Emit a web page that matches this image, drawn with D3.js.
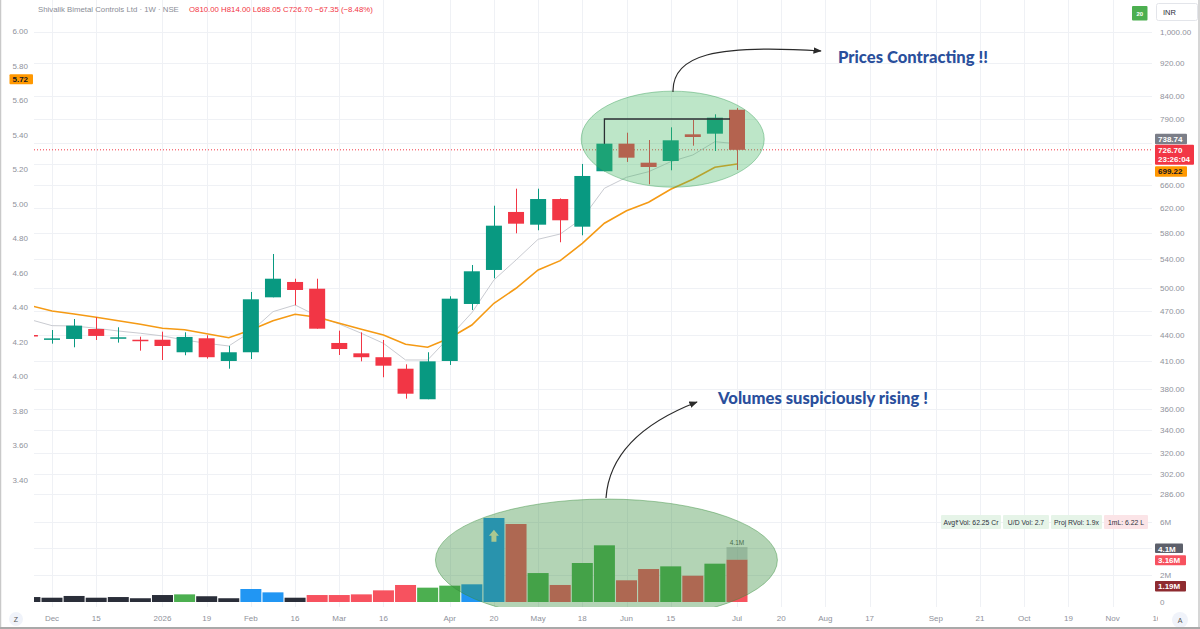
<!DOCTYPE html>
<html><head><meta charset="utf-8">
<script src="https://cdn.jsdelivr.net/npm/d3@7"></script>
<style>
body{margin:0;background:#fff;}
svg{display:block;font-family:"Liberation Sans",Arial,sans-serif;}
</style>
</head><body>
<svg id="c" width="1200" height="629"></svg>
<script>
// ---------- data (weekly, NSE: Shivalik Bimetal Controls) ----------
const dates = ['2025-11-24','2025-12-01','2025-12-08','2025-12-15','2025-12-22','2025-12-29',
  '2026-01-05','2026-01-12','2026-01-19','2026-01-26','2026-02-02','2026-02-09','2026-02-16','2026-02-23',
  '2026-03-02','2026-03-09','2026-03-16','2026-03-23','2026-03-30','2026-04-06','2026-04-13','2026-04-20',
  '2026-04-27','2026-05-04','2026-05-11','2026-05-18','2026-05-25','2026-06-01','2026-06-08','2026-06-15',
  '2026-06-22','2026-06-29','2026-07-06'];
const open  = [440,435,435.3,447.2,436.1,434.4,434.4,419.9,436.1,410.1,419.9,487.3,508.0,498.8,430.6,418.7,414.3,
  401.6,369.7,410.1,478.6,524.8,614.1,593.3,636.0,590.1,685.7,738.9,701.8,705.0,757.9,759.2,810.0];
const high  = [441,446.0,459.5,461.7,449.3,438.0,444.0,443.2,439.7,427.1,494.4,548.0,512.5,512.5,445.2,443.2,434.1,
  406.4,419.9,488.7,531.9,624.6,654.1,654.1,637.0,699.4,790.0,761.2,746.3,772.4,787.9,800.1,814.0];
const low   = [438,429.8,425.6,434.1,431.0,421.7,411.2,416.5,412.7,401.6,412.3,487.3,476.9,447.6,416.8,409.7,392.4,
  370.3,369.7,405.7,470.9,513.1,579.6,584.4,565.7,576.5,685.7,703.2,661.9,687.5,734.9,724.4,688.05];
const close = [439.5,436,451.3,438.9,437.3,432.9,427.1,437.7,414.3,419.9,484.7,512.5,497.1,447.6,423.6,414.3,404.9,
  375.3,409.7,485.5,522.9,591.7,594.9,636.0,600.4,677.0,738.9,711.4,693.7,745.7,752.4,792.8,726.7];
const maFast = [458.9,451.3,450.9,448.1,444.8,442.1,438.9,434.1,430.2,427.1,444.0,468.7,477.3,463.3,453.3,442.1,430.2,
  411.2,411.2,438.0,467.4,510.8,539.2,570.3,578.5,603.7,654.8,674.6,684.9,703.7,716.6,742.9,738.74];
const maSlow = [476.7,469.6,465.8,461.7,457.4,453.0,448.1,446.4,441.6,436.8,446.0,457.4,465.4,461.7,454.2,446.9,440.0,
  429.1,425.6,436.5,452.1,479.5,499.4,524.8,538.2,564.1,595.6,616.2,630.4,653.0,671.0,693.1,699.22];
const volume = [0.37,0.32,0.45,0.32,0.37,0.28,0.52,0.57,0.43,0.28,0.97,0.72,0.32,0.52,0.52,0.57,0.87,1.27,1.07,1.22,
  1.32,6.27,5.82,2.16,1.27,2.91,4.23,1.62,2.46,2.66,1.96,2.86,3.16];
const volKind = ['d','d','d','d','d','d','d','g','d','d','b','b','d','r','r','r','r','r','g','g','b','b','r','g','r',
  'g','g','r','r','g','r','g','r'];
const projVolume = 4.1, volAvg = 1.19;
const priceTicks = [1000,920,840,790,740,700,660,620,580,540,500,470,440,410,380,360,340,320,302,286];
const priceTickLabels = [1000,920,840,790,660,620,580,540,500,470,440,410,380,360,340,320,302,286];
const volTicks = [0,2,4,6];
const volTickLabels = ['0','2M','','6M'];
const leftTicks = [6.0,5.8,5.6,5.4,5.2,5.0,4.8,4.6,4.4,4.2,4.0,3.8,3.6,3.4];
const leftMarker = 5.72;
const tickDates = ['2025-12-01','2025-12-15','2026-01-05','2026-01-19','2026-02-02','2026-02-16','2026-03-02',
  '2026-03-16','2026-04-06','2026-04-20','2026-05-04','2026-05-18','2026-06-01','2026-06-15','2026-07-06',
  '2026-07-20','2026-08-03','2026-08-17','2026-09-07','2026-09-21','2026-10-05','2026-10-19','2026-11-02','2026-11-16'];
const tickLabels = ['Dec','15','2026','19','Feb','16','Mar','16','Apr','20','May','18','Jun','15','Jul','20','Aug',
  '17','Sep','21','Oct','19','Nov','16'];
const resistance = 790;
const stats = ['Avg₹Vol: 62.25 Cr','U/D Vol: 2.7','Proj RVol: 1.9x','1mL: 6.22 L'];

// ---------- setup ----------
const svg = d3.select('#c');
const parse = d3.utcParse('%Y-%m-%d');
const D = dates.map(parse);
const paneL = 34, paneR = 1152, paneB = 607;
const x = d3.scaleUtc().domain([parse('2025-12-01'), parse('2026-07-06')]).range([52, 737]);
const yP = d3.scaleLog().domain([286, 1000]).range([494, 32]);
const yV = d3.scaleLinear().domain([0, 6]).range([602, 521.6]);
const yL = d3.scaleLinear().domain([3.4, 6]).range([480, 31]);
const UP = '#089981', DN = '#f23645';
const volColor = {d:'#2a2e39', g:'#4caf50', b:'#2196f3', r:'#f7525f'};
const axisCol = '#8f929b';

const defs = svg.append('defs');
defs.append('clipPath').attr('id','pane').append('rect')
  .attr('x',paneL).attr('y',0).attr('width',paneR-paneL).attr('height',paneB);
defs.append('clipPath').attr('id','taxis').append('rect')
  .attr('x',paneL).attr('y',paneB).attr('width',1158-paneL).attr('height',22);
defs.append('marker').attr('id','ah').attr('viewBox','0 0 10 10').attr('refX',9).attr('refY',5)
  .attr('markerWidth',7).attr('markerHeight',7).attr('orient','auto')
  .append('path').attr('d','M0,1 L10,5 L0,9 Z').attr('fill','#2b2b2b');

// ---------- grid ----------
const grid = svg.append('g').attr('stroke','#eff1f5').attr('stroke-width',1);
grid.selectAll('.vg').data(tickDates).join('line')
  .attr('x1',d=>Math.round(x(parse(d)))+0.5).attr('x2',d=>Math.round(x(parse(d)))+0.5)
  .attr('y1',0).attr('y2',paneB).attr('clip-path','url(#pane)');
grid.selectAll('.hg').data(priceTicks).join('line')
  .attr('x1',paneL).attr('x2',paneR).attr('y1',d=>Math.round(yP(d))+0.5).attr('y2',d=>Math.round(yP(d))+0.5);
grid.selectAll('.vgv').data(volTicks.slice(1)).join('line')
  .attr('x1',paneL).attr('x2',paneR).attr('y1',d=>Math.round(yV(d))+0.5).attr('y2',d=>Math.round(yV(d))+0.5);

const pane = svg.append('g').attr('clip-path','url(#pane)');

// ---------- volume ----------
const bw = 21;
pane.selectAll('.vb').data(volume).join('rect')
  .attr('x',(d,i)=>x(D[i])-bw/2).attr('width',bw)
  .attr('y',d=>yV(d)).attr('height',d=>yV(0)-yV(d))
  .attr('fill',(d,i)=>volColor[volKind[i]]);
const li = volume.length-1;
pane.append('rect').attr('x',x(D[li])-bw/2).attr('width',bw)
  .attr('y',yV(projVolume)).attr('height',yV(volume[li])-yV(projVolume))
  .attr('fill','#9598a1').attr('opacity',0.45);
pane.append('text').attr('x',x(D[li])).attr('y',yV(projVolume)-2).attr('text-anchor','middle')
  .attr('font-size',6.5).attr('fill','#555').text(projVolume+'M');
// up-arrow marker on breakout volume bar
{
  const ax = x(D[21]), ay = yV(5.4);
  pane.append('path').attr('fill','#f3ecc4')
    .attr('d',`M${ax},${ay} L${ax+5},${ay+6} L${ax+2.5},${ay+6} L${ax+2.5},${ay+12} L${ax-2.5},${ay+12} L${ax-2.5},${ay+6} L${ax-5},${ay+6} Z`);
}

// ---------- close line ----------
pane.append('line').attr('x1',paneL).attr('x2',paneR).attr('y1',yP(close[li])).attr('y2',yP(close[li]))
  .attr('stroke',DN).attr('stroke-dasharray','1,2').attr('stroke-width',1);

// ---------- moving averages ----------
const line = d3.line().x((d,i)=>x(D[i])).y(d=>yP(d));
pane.append('path').attr('d',line(maFast)).attr('fill','none').attr('stroke','#c9cbd1').attr('stroke-width',1);
pane.append('path').attr('d',line(maSlow)).attr('fill','none').attr('stroke','#f59a14').attr('stroke-width',1.6);

// ---------- candles ----------
const cw = 16;
const cg = pane.selectAll('.cd').data(dates).join('g');
cg.append('line').attr('x1',(d,i)=>Math.round(x(D[i]))+0.5).attr('x2',(d,i)=>Math.round(x(D[i]))+0.5)
  .attr('y1',(d,i)=>yP(high[i])).attr('y2',(d,i)=>yP(low[i]))
  .attr('stroke',(d,i)=>close[i]>=open[i]?UP:DN).attr('stroke-width',1);
cg.append('rect').attr('x',(d,i)=>x(D[i])-cw/2).attr('width',cw)
  .attr('y',(d,i)=>Math.min(yP(open[i]),yP(close[i])))
  .attr('height',(d,i)=>Math.max(1.5,Math.abs(yP(open[i])-yP(close[i]))))
  .attr('fill',(d,i)=>close[i]>=open[i]?UP:DN);

// ---------- highlight ellipses ----------
svg.append('ellipse').attr('cx',x(D[29])+2).attr('cy',yP(748)).attr('rx',91.5).attr('ry',48)
  .attr('fill','rgba(67,183,96,0.35)').attr('stroke','rgba(60,160,90,0.45)').attr('stroke-width',1);
svg.append('ellipse').attr('cx',x(D[26])+2).attr('cy',yV(3.13)).attr('rx',171).attr('ry',61)
  .attr('fill','rgba(56,142,60,0.38)').attr('stroke','rgba(56,142,60,0.45)').attr('stroke-width',1)
  .attr('clip-path','url(#pane)');

// resistance bracket
{
  const x0 = x(D[26]), x1 = x(D[li])-7, yr = yP(resistance);
  svg.append('path').attr('d',`M${x0},${yP(close[26])} L${x0},${yr} L${x1},${yr}`)
    .attr('fill','none').attr('stroke','#2b2f33').attr('stroke-width',1.3);
}

// ---------- annotations ----------
svg.append('path').attr('d','M673,92 C672,55 715,44 821,51').attr('fill','none')
  .attr('stroke','#2b2b2b').attr('stroke-width',1.2).attr('marker-end','url(#ah)');
svg.append('path').attr('d','M606,498 C609,455 640,424 697,402').attr('fill','none')
  .attr('stroke','#2b2b2b').attr('stroke-width',1.2).attr('marker-end','url(#ah)');
const annFont = 'Lato, "Open Sans", sans-serif';
svg.append('text').attr('x',838).attr('y',63).attr('font-family',annFont).attr('font-weight',900)
  .attr('font-size',16.6).attr('fill','#2a4f9c').text('Prices Contracting !!');
svg.append('text').attr('x',718).attr('y',404).attr('font-family',annFont).attr('font-weight',900)
  .attr('font-size',16.6).attr('fill','#2a4f9c').text('Volumes suspiciously rising !');

// ---------- axes text ----------
const ra = svg.append('g').attr('font-size',8).attr('fill',axisCol);
ra.selectAll('.pt').data(priceTickLabels).join('text').attr('x',1160).attr('y',d=>yP(d)+3)
  .text(d=>d3.format(',.2f')(d));
ra.selectAll('.vt').data(volTicks).join('text').attr('x',1160).attr('y',d=>yV(d)+3)
  .text((d,i)=>volTickLabels[i]);
svg.append('g').attr('font-size',8).attr('fill',axisCol).attr('text-anchor','end')
  .selectAll('text').data(leftTicks).join('text').attr('x',28).attr('y',d=>yL(d)+3)
  .text(d=>d.toFixed(2));
svg.append('g').attr('font-size',8).attr('fill',axisCol).attr('text-anchor','middle').attr('clip-path','url(#taxis)')
  .selectAll('text').data(tickDates).join('text').attr('x',d=>x(parse(d))).attr('y',621)
  .text((d,i)=>tickLabels[i]);

// ---------- value labels ----------
function box(x0,y0,w,h,fill,lines,tcol){
  svg.append('rect').attr('x',x0).attr('y',y0).attr('width',w).attr('height',h).attr('fill',fill).attr('rx',1);
  lines.forEach((t,k)=>svg.append('text').attr('x',x0+3).attr('y',y0+8+k*9.5).attr('font-size',8)
    .attr('font-weight','bold').attr('fill',tcol).text(t));
}
const cTop = yP(close[li]) - 5;
box(1155, cTop-11, 32, 10.5, '#7b7e88', [d3.format('.2f')(maFast[li])], '#fff');
box(1155, cTop, 39, 20, '#f23645', [d3.format('.2f')(close[li]), '23:26:04'], '#fff');
box(1155, cTop+21.5, 32, 10.5, '#ff9800', [d3.format('.2f')(maSlow[li])], '#131722');
box(1155, yV(projVolume)-3.5, 28, 9.5, '#5d606b', [projVolume+'M'], '#fff');
box(1155, yV(volume[li])-4.5, 31, 10, '#f7525f', [volume[li]+'M'], '#fff');
box(1155, yV(volAvg)-5, 31, 10.5, '#8e2b30', [volAvg+'M'], '#fff');
box(9.5, yL(leftMarker)-5, 23.5, 10, '#ff9800', [leftMarker.toFixed(2)], '#131722');

// stats pills
const pills = [[941,60,'#e6f4e8'],[1003,46,'#e6f4e8'],[1051,51,'#e6f4e8'],[1104,44,'#fbe4e7']];
stats.forEach((s,k)=>{
  const [px,pw,pf] = pills[k];
  svg.append('rect').attr('x',px).attr('y',515).attr('width',pw).attr('height',14).attr('fill',pf).attr('rx',1);
  svg.append('text').attr('x',px+pw/2).attr('y',524.5).attr('text-anchor','middle').attr('font-size',6.8)
    .attr('fill','#2a2e39').text(s);
});

// ---------- header ----------
svg.append('text').attr('x',38).attr('y',12).attr('font-size',7.8).attr('fill','#8a8d96')
  .text('Shivalik Bimetal Controls Ltd · 1W · NSE');
svg.append('text').attr('x',189).attr('y',12).attr('font-size',7.8).attr('fill','#f23645')
  .text('O810.00  H814.00  L688.05  C726.70  −67.35 (−8.48%)');

// top-right widgets
svg.append('rect').attr('x',1132).attr('y',6).attr('width',15.5).attr('height',14.5).attr('fill','#4caf50').attr('rx',1);
svg.append('text').attr('x',1139.8).attr('y',15.8).attr('text-anchor','middle').attr('font-size',6)
  .attr('font-weight','bold').attr('fill','#fff').text('20');
svg.append('rect').attr('x',1156.5).attr('y',3.5).attr('width',41).attr('height',17).attr('fill','#fff')
  .attr('stroke','#e3e5ea').attr('rx',2);
svg.append('text').attr('x',1163).attr('y',14.5).attr('font-size',7.5).attr('fill','#2a2e39').text('INR');

// bottom buttons
svg.append('circle').attr('cx',16).attr('cy',619).attr('r',7).attr('fill','#f0f3fa');
svg.append('text').attr('x',16).attr('y',621.5).attr('text-anchor','middle').attr('font-size',7).attr('fill','#555').text('Z');
svg.append('circle').attr('cx',1180).attr('cy',620).attr('r',8).attr('fill','#f0f3fa');
svg.append('text').attr('x',1180).attr('y',622.5).attr('text-anchor','middle').attr('font-size',7).attr('fill','#555').text('A');

// frame
svg.append('line').attr('x1',0.5).attr('x2',0.5).attr('y1',0).attr('y2',629).attr('stroke','#c9c9c9').attr('stroke-width',1.5);
svg.append('line').attr('x1',1199).attr('x2',1199).attr('y1',0).attr('y2',629).attr('stroke','#c9c9c9').attr('stroke-width',1.5);
svg.append('line').attr('x1',0).attr('x2',1200).attr('y1',628).attr('y2',628).attr('stroke','#a9a9a9').attr('stroke-width',2);
</script>
</body></html>
